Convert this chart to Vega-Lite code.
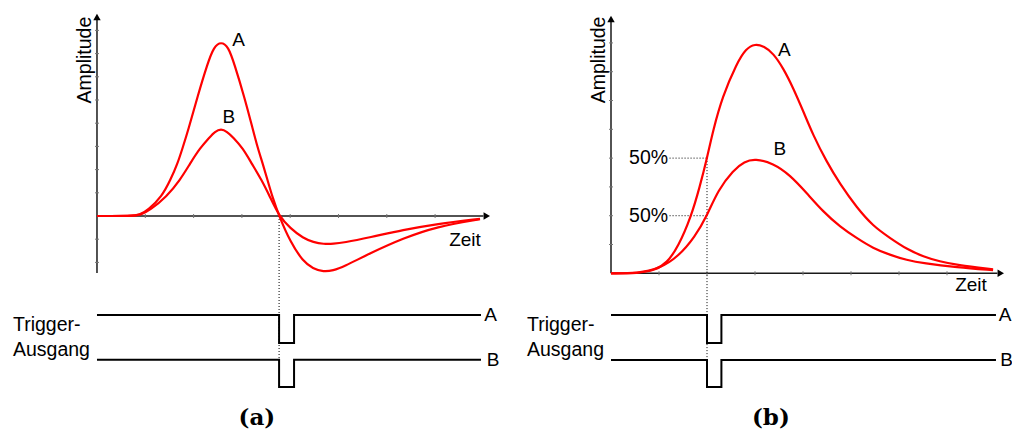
{
  "$schema": "https://vega.github.io/schema/vega-lite/v6.json",
  "padding": 0,
  "spacing": 0,
  "bounds": "flush",
  "background": "white",
  "config": {"view": {"stroke": null}},
  "datasets": {
    "curvesA": [
      {"s": "A", "t": 0, "v": 0}, {"s": "A", "t": 0.72, "v": 0}, {"s": "A", "t": 0.88, "v": 0.04}, {"s": "A", "t": 1.06, "v": 0.26},
      {"s": "A", "t": 1.34, "v": 0.83}, {"s": "A", "t": 1.52, "v": 1.55}, {"s": "A", "t": 1.67, "v": 2.27}, {"s": "A", "t": 1.77, "v": 2.92},
      {"s": "A", "t": 1.89, "v": 3.71}, {"s": "A", "t": 2.08, "v": 5.14}, {"s": "A", "t": 2.29, "v": 6.58}, {"s": "A", "t": 2.42, "v": 7.3},
      {"s": "A", "t": 2.57, "v": 7.52}, {"s": "A", "t": 2.72, "v": 7.3},
      {"s": "A", "t": 2.84, "v": 6.58}, {"s": "A", "t": 3.05, "v": 5.14}, {"s": "A", "t": 3.23, "v": 3.71}, {"s": "A", "t": 3.33, "v": 2.92},
      {"s": "A", "t": 3.43, "v": 2.27}, {"s": "A", "t": 3.53, "v": 1.55}, {"s": "A", "t": 3.63, "v": 0.83}, {"s": "A", "t": 3.77, "v": 0},
      {"s": "A", "t": 4.0, "v": -1.11}, {"s": "A", "t": 4.27, "v": -1.97}, {"s": "A", "t": 4.47, "v": -2.26}, {"s": "A", "t": 4.69, "v": -2.41},
      {"s": "A", "t": 4.89, "v": -2.35}, {"s": "A", "t": 5.1, "v": -2.19},
      {"s": "A", "t": 5.65, "v": -1.61}, {"s": "A", "t": 6.34, "v": -0.96}, {"s": "A", "t": 7.03, "v": -0.46}, {"s": "A", "t": 7.93, "v": -0.14},
      {"s": "B", "t": 0, "v": 0}, {"s": "B", "t": 0.72, "v": 0}, {"s": "B", "t": 0.9, "v": 0.04}, {"s": "B", "t": 1.1, "v": 0.26},
      {"s": "B", "t": 1.44, "v": 0.83}, {"s": "B", "t": 1.72, "v": 1.55}, {"s": "B", "t": 1.93, "v": 2.27}, {"s": "B", "t": 2.13, "v": 2.92},
      {"s": "B", "t": 2.33, "v": 3.39}, {"s": "B", "t": 2.44, "v": 3.64}, {"s": "B", "t": 2.57, "v": 3.76}, {"s": "B", "t": 2.69, "v": 3.64},
      {"s": "B", "t": 2.82, "v": 3.39}, {"s": "B", "t": 3.02, "v": 2.92}, {"s": "B", "t": 3.2, "v": 2.27}, {"s": "B", "t": 3.41, "v": 1.55},
      {"s": "B", "t": 3.58, "v": 0.83}, {"s": "B", "t": 3.77, "v": 0},
      {"s": "B", "t": 4.0, "v": -0.53}, {"s": "B", "t": 4.27, "v": -0.96}, {"s": "B", "t": 4.48, "v": -1.13}, {"s": "B", "t": 4.69, "v": -1.21},
      {"s": "B", "t": 4.9, "v": -1.2}, {"s": "B", "t": 5.1, "v": -1.15},
      {"s": "B", "t": 5.65, "v": -0.92}, {"s": "B", "t": 6.34, "v": -0.6}, {"s": "B", "t": 7.03, "v": -0.34}, {"s": "B", "t": 7.93, "v": -0.12}
    ],
    "curvesB": [
      {"s": "A", "t": 0, "v": 0}, {"s": "A", "t": 0.56, "v": 0}, {"s": "A", "t": 0.92, "v": 0.11}, {"s": "A", "t": 1.16, "v": 0.35},
      {"s": "A", "t": 1.4, "v": 0.92}, {"s": "A", "t": 1.67, "v": 1.97}, {"s": "A", "t": 1.85, "v": 3.01}, {"s": "A", "t": 2.0, "v": 4.0},
      {"s": "A", "t": 2.13, "v": 4.98}, {"s": "A", "t": 2.32, "v": 6.13}, {"s": "A", "t": 2.62, "v": 7.29}, {"s": "A", "t": 2.81, "v": 7.8},
      {"s": "A", "t": 3.0, "v": 7.97}, {"s": "A", "t": 3.19, "v": 7.88}, {"s": "A", "t": 3.38, "v": 7.64}, {"s": "A", "t": 3.59, "v": 7.12},
      {"s": "A", "t": 3.8, "v": 6.42}, {"s": "A", "t": 4.01, "v": 5.61}, {"s": "A", "t": 4.21, "v": 4.8}, {"s": "A", "t": 4.49, "v": 3.88},
      {"s": "A", "t": 4.77, "v": 3.1}, {"s": "A", "t": 5.12, "v": 2.28}, {"s": "A", "t": 5.46, "v": 1.64}, {"s": "A", "t": 5.81, "v": 1.23},
      {"s": "A", "t": 6.16, "v": 0.84}, {"s": "A", "t": 6.51, "v": 0.58}, {"s": "A", "t": 6.85, "v": 0.41}, {"s": "A", "t": 7.2, "v": 0.29},
      {"s": "A", "t": 7.96, "v": 0.14},
      {"s": "B", "t": 0, "v": 0}, {"s": "B", "t": 0.56, "v": 0}, {"s": "B", "t": 1.02, "v": 0.17}, {"s": "B", "t": 1.4, "v": 0.58},
      {"s": "B", "t": 1.75, "v": 1.27}, {"s": "B", "t": 2.0, "v": 2.0}, {"s": "B", "t": 2.23, "v": 2.89}, {"s": "B", "t": 2.55, "v": 3.59},
      {"s": "B", "t": 2.78, "v": 3.88}, {"s": "B", "t": 3.0, "v": 3.98}, {"s": "B", "t": 3.38, "v": 3.82}, {"s": "B", "t": 3.73, "v": 3.41},
      {"s": "B", "t": 4.08, "v": 2.78}, {"s": "B", "t": 4.42, "v": 2.14}, {"s": "B", "t": 4.77, "v": 1.62}, {"s": "B", "t": 5.12, "v": 1.22},
      {"s": "B", "t": 5.46, "v": 0.87}, {"s": "B", "t": 5.81, "v": 0.64}, {"s": "B", "t": 6.16, "v": 0.46}, {"s": "B", "t": 6.51, "v": 0.35},
      {"s": "B", "t": 7.2, "v": 0.21}, {"s": "B", "t": 7.96, "v": 0.11}
    ],
    "trigA": [
      {"s": "A", "i": 0, "t": 0, "v": -4.27}, {"s": "A", "i": 1, "t": 3.77, "v": -4.27}, {"s": "A", "i": 2, "t": 3.77, "v": -5.47},
      {"s": "A", "i": 3, "t": 4.08, "v": -5.47}, {"s": "A", "i": 4, "t": 4.08, "v": -4.27}, {"s": "A", "i": 5, "t": 7.95, "v": -4.27},
      {"s": "B", "i": 0, "t": 0, "v": -6.2}, {"s": "B", "i": 1, "t": 3.77, "v": -6.2}, {"s": "B", "i": 2, "t": 3.77, "v": -7.37},
      {"s": "B", "i": 3, "t": 4.08, "v": -7.37}, {"s": "B", "i": 4, "t": 4.08, "v": -6.2}, {"s": "B", "i": 5, "t": 7.95, "v": -6.2}
    ],
    "trigB": [
      {"s": "A", "i": 0, "t": 0, "v": -1.45}, {"s": "A", "i": 1, "t": 2.0, "v": -1.45}, {"s": "A", "i": 2, "t": 2.0, "v": -2.42},
      {"s": "A", "i": 3, "t": 2.3, "v": -2.42}, {"s": "A", "i": 4, "t": 2.3, "v": -1.45}, {"s": "A", "i": 5, "t": 8.02, "v": -1.45},
      {"s": "B", "i": 0, "t": 0, "v": -3.01}, {"s": "B", "i": 1, "t": 2.0, "v": -3.01}, {"s": "B", "i": 2, "t": 2.0, "v": -3.95},
      {"s": "B", "i": 3, "t": 2.3, "v": -3.95}, {"s": "B", "i": 4, "t": 2.3, "v": -3.01}, {"s": "B", "i": 5, "t": 8.02, "v": -3.01}
    ],
    "axesA": [{"t": 0, "v": -2.46, "t2": 0, "v2": 8.45}, {"t": 0, "v": 0, "t2": 8.0, "v2": 0}],
    "axesB": [{"t": 0, "v": 0, "t2": 0, "v2": 8.75}, {"t": 0, "v": 0, "t2": 8.05, "v2": 0}],
    "arrowUpA": [{"t": 0, "v": 8.58}], "arrowRightA": [{"t": 8.07, "v": 0}],
    "arrowUpB": [{"t": 0, "v": 8.83}], "arrowRightB": [{"t": 8.12, "v": 0}],
    "yticksA": [{"t": 0, "v": -2}, {"t": 0, "v": -1}, {"t": 0, "v": 1}, {"t": 0, "v": 2}, {"t": 0, "v": 3}, {"t": 0, "v": 4}, {"t": 0, "v": 5}, {"t": 0, "v": 6}, {"t": 0, "v": 7}, {"t": 0, "v": 8}],
    "xticksA": [{"t": 1, "v": 0}, {"t": 2, "v": 0}, {"t": 3, "v": 0}, {"t": 4, "v": 0}, {"t": 5, "v": 0}, {"t": 6, "v": 0}, {"t": 7, "v": 0}],
    "yticksB": [{"t": 0, "v": 1}, {"t": 0, "v": 2}, {"t": 0, "v": 3}, {"t": 0, "v": 4}, {"t": 0, "v": 5}, {"t": 0, "v": 6}, {"t": 0, "v": 7}, {"t": 0, "v": 8}],
    "xticksB": [{"t": 1, "v": 0}, {"t": 2, "v": 0}, {"t": 3, "v": 0}, {"t": 4, "v": 0}, {"t": 5, "v": 0}, {"t": 6, "v": 0}, {"t": 7, "v": 0}],
    "dotsA": [{"t": 3.77, "v": 0, "t2": 3.77, "v2": -6.2}],
    "dotsB": [{"t": 2.0, "v": 4.0, "t2": 2.0, "v2": -3.01}, {"t": 1.22, "v": 4.0, "t2": 2.0, "v2": 4.0}, {"t": 1.22, "v": 2.0, "t2": 2.0, "v2": 2.0}],
    "labelsA": [
      {"label": "A", "t": 2.93, "v": 7.59}, {"label": "B", "t": 2.73, "v": 4.28}, {"label": "Zeit", "t": 7.62, "v": -1.05},
      {"label": "A", "t": 8.15, "v": -4.27}, {"label": "B", "t": 8.2, "v": -6.2}
    ],
    "leftA": [{"label": "Trigger-", "t": -1.74, "v": -4.96}, {"label": "Ausgang", "t": -1.74, "v": -6.02}],
    "rotA": [{"label": "Amplitude", "t": -0.24, "v": 6.72}],
    "capA": [{"label": "(a)", "t": 3.31, "v": -8.72}],
    "labelsB": [
      {"label": "A", "t": 3.61, "v": 7.75}, {"label": "B", "t": 3.52, "v": 4.31}, {"label": "Zeit", "t": 7.5, "v": -0.41},
      {"label": "A", "t": 8.21, "v": -1.45}, {"label": "B", "t": 8.24, "v": -3.01}
    ],
    "leftB": [{"label": "Trigger-", "t": -1.75, "v": -1.99}, {"label": "Ausgang", "t": -1.75, "v": -2.86}],
    "pctB": [{"label": "50%", "t": 1.19, "v": 4.0}, {"label": "50%", "t": 1.19, "v": 2.0}],
    "rotB": [{"label": "Amplitude", "t": -0.24, "v": 7.41}],
    "capB": [{"label": "(b)", "t": 3.33, "v": -5.04}]
  },
  "hconcat": [
    {
      "width": 506,
      "height": 432,
      "layer": [
        {
          "data": {"name": "axesA"},
          "mark": {"type": "rule", "color": "#1a1a1a", "strokeWidth": 1.5},
          "encoding": {
            "x": {"field": "t", "type": "quantitative", "scale": {"domain": [-2.008, 8.468], "nice": false, "zero": false}, "axis": null},
            "y": {"field": "v", "type": "quantitative", "scale": {"domain": [-9.31, 9.31], "nice": false, "zero": false}, "axis": null},
            "x2": {"field": "t2"}, "y2": {"field": "v2"}
          }
        },
        {
          "data": {"name": "arrowUpA"},
          "mark": {"type": "point", "shape": "triangle-up", "filled": true, "color": "#000", "size": 55, "opacity": 1},
          "encoding": {
            "x": {"field": "t", "type": "quantitative", "scale": {"domain": [-2.008, 8.468], "nice": false, "zero": false}, "axis": null},
            "y": {"field": "v", "type": "quantitative", "scale": {"domain": [-9.31, 9.31], "nice": false, "zero": false}, "axis": null}
          }
        },
        {
          "data": {"name": "arrowRightA"},
          "mark": {"type": "point", "shape": "triangle-right", "filled": true, "color": "#000", "size": 55, "opacity": 1},
          "encoding": {
            "x": {"field": "t", "type": "quantitative", "scale": {"domain": [-2.008, 8.468], "nice": false, "zero": false}, "axis": null},
            "y": {"field": "v", "type": "quantitative", "scale": {"domain": [-9.31, 9.31], "nice": false, "zero": false}, "axis": null}
          }
        },
        {
          "data": {"name": "yticksA"},
          "mark": {"type": "tick", "orient": "horizontal", "size": 4, "thickness": 1, "color": "#777", "opacity": 1},
          "encoding": {
            "x": {"field": "t", "type": "quantitative", "scale": {"domain": [-2.008, 8.468], "nice": false, "zero": false}, "axis": null},
            "y": {"field": "v", "type": "quantitative", "scale": {"domain": [-9.31, 9.31], "nice": false, "zero": false}, "axis": null}
          }
        },
        {
          "data": {"name": "xticksA"},
          "mark": {"type": "tick", "orient": "vertical", "size": 4, "thickness": 1, "color": "#777", "opacity": 1},
          "encoding": {
            "x": {"field": "t", "type": "quantitative", "scale": {"domain": [-2.008, 8.468], "nice": false, "zero": false}, "axis": null},
            "y": {"field": "v", "type": "quantitative", "scale": {"domain": [-9.31, 9.31], "nice": false, "zero": false}, "axis": null}
          }
        },
        {
          "data": {"name": "dotsA"},
          "mark": {"type": "rule", "color": "#000", "strokeWidth": 1, "strokeDash": [1, 2]},
          "encoding": {
            "x": {"field": "t", "type": "quantitative", "scale": {"domain": [-2.008, 8.468], "nice": false, "zero": false}, "axis": null},
            "y": {"field": "v", "type": "quantitative", "scale": {"domain": [-9.31, 9.31], "nice": false, "zero": false}, "axis": null},
            "x2": {"field": "t2"}, "y2": {"field": "v2"}
          }
        },
        {
          "data": {"name": "curvesA"},
          "mark": {"type": "line", "color": "#ff0000", "strokeWidth": 2.2, "interpolate": "basis"},
          "encoding": {
            "x": {"field": "t", "type": "quantitative", "scale": {"domain": [-2.008, 8.468], "nice": false, "zero": false}, "axis": null},
            "y": {"field": "v", "type": "quantitative", "scale": {"domain": [-9.31, 9.31], "nice": false, "zero": false}, "axis": null},
            "detail": {"field": "s"}
          }
        },
        {
          "data": {"name": "trigA"},
          "mark": {"type": "line", "color": "#000", "strokeWidth": 2, "strokeJoin": "miter", "strokeCap": "butt"},
          "encoding": {
            "x": {"field": "t", "type": "quantitative", "scale": {"domain": [-2.008, 8.468], "nice": false, "zero": false}, "axis": null},
            "y": {"field": "v", "type": "quantitative", "scale": {"domain": [-9.31, 9.31], "nice": false, "zero": false}, "axis": null},
            "detail": {"field": "s"},
            "order": {"field": "i"}
          }
        },
        {
          "data": {"name": "labelsA"},
          "mark": {"type": "text", "font": "Liberation Sans", "fontSize": 19, "align": "center", "baseline": "middle", "color": "#000"},
          "encoding": {
            "x": {"field": "t", "type": "quantitative", "scale": {"domain": [-2.008, 8.468], "nice": false, "zero": false}, "axis": null},
            "y": {"field": "v", "type": "quantitative", "scale": {"domain": [-9.31, 9.31], "nice": false, "zero": false}, "axis": null},
            "text": {"field": "label"}
          }
        },
        {
          "data": {"name": "leftA"},
          "mark": {"type": "text", "font": "Liberation Sans", "fontSize": 19.5, "align": "left", "baseline": "alphabetic", "color": "#000"},
          "encoding": {
            "x": {"field": "t", "type": "quantitative", "scale": {"domain": [-2.008, 8.468], "nice": false, "zero": false}, "axis": null},
            "y": {"field": "v", "type": "quantitative", "scale": {"domain": [-9.31, 9.31], "nice": false, "zero": false}, "axis": null},
            "text": {"field": "label"}
          }
        },
        {
          "data": {"name": "rotA"},
          "mark": {"type": "text", "font": "Liberation Sans", "fontSize": 19.5, "align": "center", "baseline": "middle", "angle": 270, "color": "#000"},
          "encoding": {
            "x": {"field": "t", "type": "quantitative", "scale": {"domain": [-2.008, 8.468], "nice": false, "zero": false}, "axis": null},
            "y": {"field": "v", "type": "quantitative", "scale": {"domain": [-9.31, 9.31], "nice": false, "zero": false}, "axis": null},
            "text": {"field": "label"}
          }
        },
        {
          "data": {"name": "capA"},
          "mark": {"type": "text", "font": "DejaVu Serif", "fontWeight": "bold", "fontSize": 23, "align": "center", "baseline": "middle", "color": "#000"},
          "encoding": {
            "x": {"field": "t", "type": "quantitative", "scale": {"domain": [-2.008, 8.468], "nice": false, "zero": false}, "axis": null},
            "y": {"field": "v", "type": "quantitative", "scale": {"domain": [-9.31, 9.31], "nice": false, "zero": false}, "axis": null},
            "text": {"field": "label"}
          }
        }
      ]
    },
    {
      "width": 506,
      "height": 432,
      "layer": [
        {
          "data": {"name": "axesB"},
          "mark": {"type": "rule", "color": "#1a1a1a", "strokeWidth": 1.5},
          "encoding": {
            "x": {"field": "t", "type": "quantitative", "scale": {"domain": [-2.1875, 8.354], "nice": false, "zero": false}, "axis": null},
            "y": {"field": "v", "type": "quantitative", "scale": {"domain": [-5.51, 9.49], "nice": false, "zero": false}, "axis": null},
            "x2": {"field": "t2"}, "y2": {"field": "v2"}
          }
        },
        {
          "data": {"name": "arrowUpB"},
          "mark": {"type": "point", "shape": "triangle-up", "filled": true, "color": "#000", "size": 55, "opacity": 1},
          "encoding": {
            "x": {"field": "t", "type": "quantitative", "scale": {"domain": [-2.1875, 8.354], "nice": false, "zero": false}, "axis": null},
            "y": {"field": "v", "type": "quantitative", "scale": {"domain": [-5.51, 9.49], "nice": false, "zero": false}, "axis": null}
          }
        },
        {
          "data": {"name": "arrowRightB"},
          "mark": {"type": "point", "shape": "triangle-right", "filled": true, "color": "#000", "size": 55, "opacity": 1},
          "encoding": {
            "x": {"field": "t", "type": "quantitative", "scale": {"domain": [-2.1875, 8.354], "nice": false, "zero": false}, "axis": null},
            "y": {"field": "v", "type": "quantitative", "scale": {"domain": [-5.51, 9.49], "nice": false, "zero": false}, "axis": null}
          }
        },
        {
          "data": {"name": "yticksB"},
          "mark": {"type": "tick", "orient": "horizontal", "size": 4, "thickness": 1, "color": "#777", "opacity": 1},
          "encoding": {
            "x": {"field": "t", "type": "quantitative", "scale": {"domain": [-2.1875, 8.354], "nice": false, "zero": false}, "axis": null},
            "y": {"field": "v", "type": "quantitative", "scale": {"domain": [-5.51, 9.49], "nice": false, "zero": false}, "axis": null}
          }
        },
        {
          "data": {"name": "xticksB"},
          "mark": {"type": "tick", "orient": "vertical", "size": 4, "thickness": 1, "color": "#777", "opacity": 1},
          "encoding": {
            "x": {"field": "t", "type": "quantitative", "scale": {"domain": [-2.1875, 8.354], "nice": false, "zero": false}, "axis": null},
            "y": {"field": "v", "type": "quantitative", "scale": {"domain": [-5.51, 9.49], "nice": false, "zero": false}, "axis": null}
          }
        },
        {
          "data": {"name": "dotsB"},
          "mark": {"type": "rule", "color": "#000", "strokeWidth": 1, "strokeDash": [1, 2]},
          "encoding": {
            "x": {"field": "t", "type": "quantitative", "scale": {"domain": [-2.1875, 8.354], "nice": false, "zero": false}, "axis": null},
            "y": {"field": "v", "type": "quantitative", "scale": {"domain": [-5.51, 9.49], "nice": false, "zero": false}, "axis": null},
            "x2": {"field": "t2"}, "y2": {"field": "v2"}
          }
        },
        {
          "data": {"name": "curvesB"},
          "mark": {"type": "line", "color": "#ff0000", "strokeWidth": 2.2, "interpolate": "basis"},
          "encoding": {
            "x": {"field": "t", "type": "quantitative", "scale": {"domain": [-2.1875, 8.354], "nice": false, "zero": false}, "axis": null},
            "y": {"field": "v", "type": "quantitative", "scale": {"domain": [-5.51, 9.49], "nice": false, "zero": false}, "axis": null},
            "detail": {"field": "s"}
          }
        },
        {
          "data": {"name": "trigB"},
          "mark": {"type": "line", "color": "#000", "strokeWidth": 2, "strokeJoin": "miter", "strokeCap": "butt"},
          "encoding": {
            "x": {"field": "t", "type": "quantitative", "scale": {"domain": [-2.1875, 8.354], "nice": false, "zero": false}, "axis": null},
            "y": {"field": "v", "type": "quantitative", "scale": {"domain": [-5.51, 9.49], "nice": false, "zero": false}, "axis": null},
            "detail": {"field": "s"},
            "order": {"field": "i"}
          }
        },
        {
          "data": {"name": "labelsB"},
          "mark": {"type": "text", "font": "Liberation Sans", "fontSize": 19, "align": "center", "baseline": "middle", "color": "#000"},
          "encoding": {
            "x": {"field": "t", "type": "quantitative", "scale": {"domain": [-2.1875, 8.354], "nice": false, "zero": false}, "axis": null},
            "y": {"field": "v", "type": "quantitative", "scale": {"domain": [-5.51, 9.49], "nice": false, "zero": false}, "axis": null},
            "text": {"field": "label"}
          }
        },
        {
          "data": {"name": "leftB"},
          "mark": {"type": "text", "font": "Liberation Sans", "fontSize": 19.5, "align": "left", "baseline": "alphabetic", "color": "#000"},
          "encoding": {
            "x": {"field": "t", "type": "quantitative", "scale": {"domain": [-2.1875, 8.354], "nice": false, "zero": false}, "axis": null},
            "y": {"field": "v", "type": "quantitative", "scale": {"domain": [-5.51, 9.49], "nice": false, "zero": false}, "axis": null},
            "text": {"field": "label"}
          }
        },
        {
          "data": {"name": "pctB"},
          "mark": {"type": "text", "font": "Liberation Sans", "fontSize": 19.5, "align": "right", "baseline": "middle", "color": "#000"},
          "encoding": {
            "x": {"field": "t", "type": "quantitative", "scale": {"domain": [-2.1875, 8.354], "nice": false, "zero": false}, "axis": null},
            "y": {"field": "v", "type": "quantitative", "scale": {"domain": [-5.51, 9.49], "nice": false, "zero": false}, "axis": null},
            "text": {"field": "label"}
          }
        },
        {
          "data": {"name": "rotB"},
          "mark": {"type": "text", "font": "Liberation Sans", "fontSize": 19.5, "align": "center", "baseline": "middle", "angle": 270, "color": "#000"},
          "encoding": {
            "x": {"field": "t", "type": "quantitative", "scale": {"domain": [-2.1875, 8.354], "nice": false, "zero": false}, "axis": null},
            "y": {"field": "v", "type": "quantitative", "scale": {"domain": [-5.51, 9.49], "nice": false, "zero": false}, "axis": null},
            "text": {"field": "label"}
          }
        },
        {
          "data": {"name": "capB"},
          "mark": {"type": "text", "font": "DejaVu Serif", "fontWeight": "bold", "fontSize": 23, "align": "center", "baseline": "middle", "color": "#000"},
          "encoding": {
            "x": {"field": "t", "type": "quantitative", "scale": {"domain": [-2.1875, 8.354], "nice": false, "zero": false}, "axis": null},
            "y": {"field": "v", "type": "quantitative", "scale": {"domain": [-5.51, 9.49], "nice": false, "zero": false}, "axis": null},
            "text": {"field": "label"}
          }
        }
      ]
    }
  ],
  "resolve": {"scale": {"x": "independent", "y": "independent"}}
}
